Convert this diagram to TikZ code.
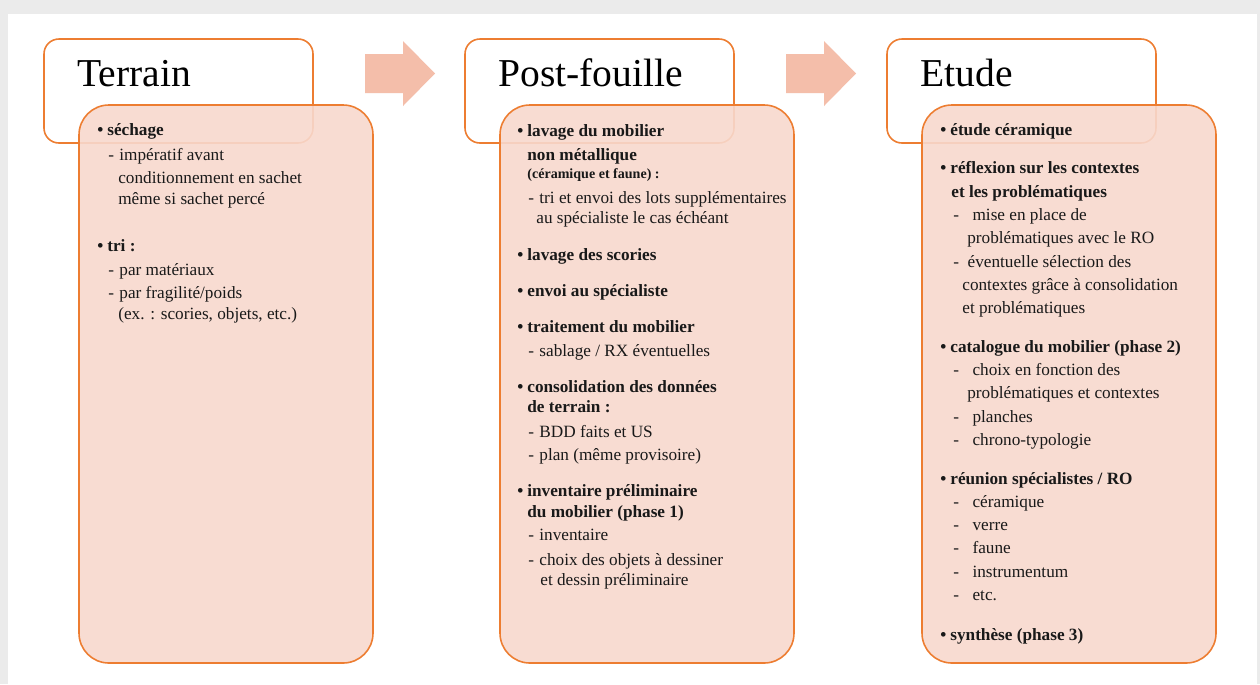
\documentclass[tikz,border=0pt]{standalone}
\usepackage{fontspec}
\setmainfont{Liberation Serif}
\definecolor{boxorange}{HTML}{ED7D31}
\definecolor{bodyfill}{HTML}{F8D9CE}
\definecolor{arrowfill}{HTML}{F4BEAA}
\definecolor{pagegray}{HTML}{EBEBEB}
\newcommand{\bulletmark}{\makebox[5.7pt][l]{\textbullet}}
\newcommand{\itemdash}[1][6.3pt]{\makebox[#1][l]{-}}

\begin{document}
\begin{tikzpicture}[x=0.02cm, y=-0.02cm,
  titlebox/.style={draw=boxorange, line width=0.9pt, fill=white, rounded corners=8.5pt},
  bodybox/.style={draw=boxorange, line width=0.9pt, fill=bodyfill, fill opacity=0.9, rounded corners=17pt},
  titletext/.style={anchor=base west, inner sep=0pt, font=\fontsize{22.5}{26}\selectfont},
  ln/.style={anchor=base west, inner sep=0pt, font=\fontsize{9.8}{12}\selectfont, text=black!90},
  hd/.style={ln, font=\fontsize{9.8}{12}\selectfont\bfseries},
  smallhd/.style={ln, font=\fontsize{8}{10}\selectfont\bfseries}]
  \useasboundingbox (0,0) rectangle (1260,684);
  % page and shadow
  \fill[pagegray] (0,0) rectangle (1260,684);
  \fill[white] (8,14) rectangle (1257,684);
  % title boxes, body boxes
  \foreach \x/\ttl [count=\i] in {44/Terrain, 465/Post-fouille, 887/Etude} {
    \draw[titlebox] (\x,39) rectangle ++(269,104);
    \node[titletext] (title\i) at (\x+33,86) {\ttl};
    \draw[bodybox] (\x+35,105) rectangle ++(294,558);
  }
  % block arrows between the stages
  \foreach \x in {365,786}
    \fill[arrowfill] (\x,54) -- (\x+38,54) -- (\x+38,41) -- (\x+70,73.5) -- (\x+38,106) -- (\x+38,93) -- (\x,93) -- cycle;
  % Terrain
  \node[hd] (terrain_l1) at (97,135) {\bulletmark séchage};
  \node[ln] (terrain_l2) at (108,160) {\itemdash impératif avant};
  \node[ln] (terrain_l3) at (118,183) {conditionnement en sachet};
  \node[ln] (terrain_l4) at (118,204) {même si sachet percé};
  \node[hd] (terrain_l5) at (97,251) {\bulletmark tri :};
  \node[ln] (terrain_l6) at (108,275) {\itemdash par matériaux};
  \node[ln] (terrain_l7) at (108,298) {\itemdash par fragilité/poids};
  \node[ln] (terrain_l8) at (118,319) {(ex. : scories, objets, etc.)};
  % Post-fouille
  \node[hd] (post_l1) at (517,136) {\bulletmark lavage du mobilier};
  \node[hd] (post_l2) at (527,160) {non métallique};
  \node[smallhd] (post_l3) at (527,178) {(céramique et faune) :};
  \node[ln] (post_l4) at (528,203) {\itemdash tri et envoi des lots supplémentaires};
  \node[ln] (post_l5) at (536,223) {au spécialiste le cas échéant};
  \node[hd] (post_l6) at (517,260) {\bulletmark lavage des scories};
  \node[hd] (post_l7) at (517,296) {\bulletmark envoi au spécialiste};
  \node[hd] (post_l8) at (517,332) {\bulletmark traitement du mobilier};
  \node[ln] (post_l9) at (528,356) {\itemdash sablage / RX éventuelles};
  \node[hd] (post_l10) at (517,392) {\bulletmark consolidation des données};
  \node[hd] (post_l11) at (527,412) {de terrain :};
  \node[ln] (post_l12) at (528,437) {\itemdash BDD faits et US};
  \node[ln] (post_l13) at (528,460) {\itemdash plan (même provisoire)};
  \node[hd] (post_l14) at (517,496) {\bulletmark inventaire préliminaire};
  \node[hd] (post_l15) at (527,517) {du mobilier (phase 1)};
  \node[ln] (post_l16) at (528,540) {\itemdash inventaire};
  \node[ln] (post_l17) at (528,565) {\itemdash choix des objets à dessiner};
  \node[ln] (post_l18) at (540,585) {et dessin préliminaire};
  % Etude
  \node[hd] (etude_l1) at (940,135) {\bulletmark étude céramique};
  \node[hd] (etude_l2) at (940,173) {\bulletmark réflexion sur les contextes};
  \node[hd] (etude_l3) at (951,197) {et les problématiques};
  \node[ln] (etude_l4) at (953,220) {\itemdash[8.5pt] mise en place de};
  \node[ln] (etude_l5) at (967,243) {problématiques avec le RO};
  \node[ln] (etude_l6) at (953,267) {\itemdash[5.7pt] éventuelle sélection des};
  \node[ln] (etude_l7) at (962,290) {contextes grâce à consolidation};
  \node[ln] (etude_l8) at (962,313) {et problématiques};
  \node[hd] (etude_l9) at (940,352) {\bulletmark catalogue du mobilier (phase 2)};
  \node[ln] (etude_l10) at (953,375) {\itemdash[8.5pt] choix en fonction des};
  \node[ln] (etude_l11) at (967,398) {problématiques et contextes};
  \node[ln] (etude_l12) at (953,422) {\itemdash[8.5pt] planches};
  \node[ln] (etude_l13) at (953,445) {\itemdash[8.5pt] chrono-typologie};
  \node[hd] (etude_l14) at (940,484) {\bulletmark réunion spécialistes / RO};
  \node[ln] (etude_l15) at (953,507) {\itemdash[8.5pt] céramique};
  \node[ln] (etude_l16) at (953,530) {\itemdash[8.5pt] verre};
  \node[ln] (etude_l17) at (953,553) {\itemdash[8.5pt] faune};
  \node[ln] (etude_l18) at (953,577) {\itemdash[8.5pt] instrumentum};
  \node[ln] (etude_l19) at (953,600) {\itemdash[8.5pt] etc.};
  \node[hd] (etude_l20) at (940,640) {\bulletmark synthèse (phase 3)};
\end{tikzpicture}
\end{document}
